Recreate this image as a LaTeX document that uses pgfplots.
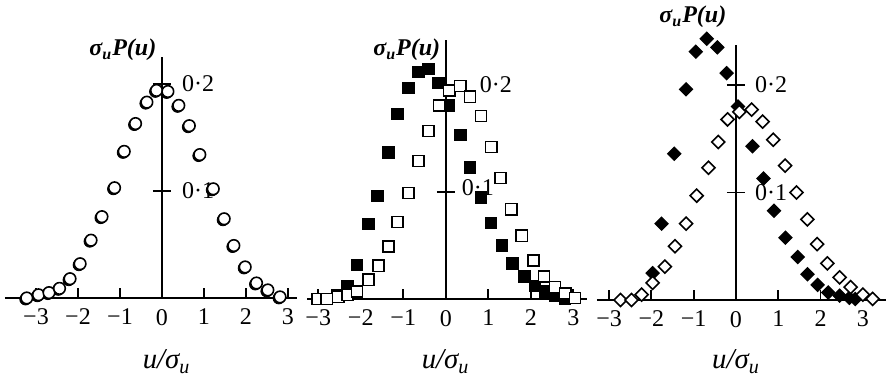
\documentclass[border=0pt]{standalone}
\usepackage{pgfplots}
\usepackage{pgfplotstable}
\pgfplotsset{compat=1.18}
\usepackage{fontspec}
\setmainfont{Liberation Serif}

\pgfplotstableread{
u p
-3.22 0.000
-2.94 0.003
-2.69 0.005
-2.44 0.009
-2.19 0.018
-1.95 0.032
-1.69 0.054
-1.43 0.076
-1.13 0.103
-0.90 0.137
-0.63 0.163
-0.36 0.183
-0.13 0.194
0.14 0.193
0.40 0.180
0.65 0.161
0.90 0.134
1.22 0.102
1.48 0.074
1.71 0.049
1.98 0.029
2.25 0.014
2.52 0.0075
2.81 0.001
}\circA

\pgfplotstableread{
u p
-2.56 0.004
-2.31 0.012
-2.09 0.032
-1.82 0.070
-1.61 0.096
-1.35 0.137
-1.14 0.173
-0.88 0.197
-0.64 0.212
-0.41 0.215
-0.17 0.202
0.08 0.181
0.35 0.153
0.57 0.123
0.83 0.095
1.07 0.071
1.33 0.050
1.57 0.033
1.85 0.021
2.10 0.012
2.34 0.007
2.57 0.003
2.81 0.000
}\sqFilled

\pgfplotstableread{
u p
-3.02 0.000
-2.80 0.000
-2.53 0.002
-2.31 0.004
-2.09 0.007
-1.82 0.018
-1.58 0.031
-1.35 0.049
-1.14 0.072
-0.88 0.099
-0.64 0.129
-0.41 0.157
-0.16 0.181
0.08 0.195
0.34 0.199
0.57 0.189
0.83 0.171
1.07 0.142
1.29 0.113
1.54 0.084
1.79 0.059
2.06 0.036
2.31 0.021
2.57 0.011
2.81 0.005
3.04 0.001
}\sqOpen

\pgfplotstableread{
u p
-1.97 0.025
-1.76 0.071
-1.46 0.136
-1.18 0.196
-0.95 0.231
-0.69 0.243
-0.44 0.235
-0.22 0.211
0.05 0.180
0.39 0.143
0.65 0.113
0.90 0.083
1.17 0.058
1.46 0.040
1.69 0.024
1.93 0.014
2.18 0.007
2.45 0.004
2.68 0.002
2.82 0.001
}\diaFilled

\pgfplotstableread{
u p
-2.73 0.000
-2.47 0.000
-2.23 0.005
-1.97 0.016
-1.68 0.031
-1.44 0.050
-1.18 0.071
-0.93 0.097
-0.65 0.123
-0.42 0.147
-0.20 0.168
0.08 0.175
0.37 0.177
0.63 0.166
0.88 0.149
1.16 0.125
1.43 0.100
1.69 0.075
1.92 0.052
2.16 0.034
2.45 0.021
2.71 0.012
3.00 0.005
3.23 0.001
}\diaOpen

\tikzset{ycross/.style={line width=0.9pt, black}}

\pgfplotsset{
  panel/.style={
    axis lines=middle,
    axis line style={-, line width=0.9pt, black},
    enlargelimits=false, clip=false, ymin=0,
    anchor=south west,
    xtick={-3,-2,-1,0,1,2,3},
    xticklabels={−3,−2,−1,0,1,2,3},
    hide obscured x ticks=false,
    hide obscured y ticks=false,
    tick align=inside, major tick length=5pt,
    xtick style={line width=0.9pt, black},
    ytick={0.1,0.2},
    ytick style={draw=none},
    yticklabels={0·1,0·2},
    yticklabel style={anchor=west, xshift=6.5pt},
    xticklabel style={yshift=-2pt},
    xlabel={\itshape u/σ\textsubscript{u}},
    ylabel={\bfseries\itshape σ\textsubscript{u}P(u)},
    tick label style={font=\large},
    xlabel style={font=\Large},
    ylabel style={font=\large},
  },
}

\begin{document}
\begin{tikzpicture}
\useasboundingbox (0,0) rectangle (443pt,-189.5pt);

% Panel 1
\begin{axis}[panel,
  at={(2.45pt,-149pt)},
  x=21pt, y=535pt,
  xmin=-3.74, xmax=3.21, ymax=0.225,
  xlabel style={at={(axis description cs:0.554,-0.264)}, anchor=center},
  ylabel style={at={(axis description cs:0.404,1.031)}, anchor=center},
]
\draw[ycross] ([xshift=-4.5pt]axis cs:0,0.1) -- ([xshift=4.5pt]axis cs:0,0.1);
\draw[ycross] ([xshift=-4.5pt]axis cs:0,0.2) -- ([xshift=4.5pt]axis cs:0,0.2);
\addplot[only marks, mark=*, mark size=2.9pt, black,
  mark options={xshift=-0.6pt, yshift=-0.6pt}] table[x=u,y=p] {\circA};
\addplot[only marks, mark=*, mark size=2.9pt,
  mark options={draw=black, fill=white, line width=0.8pt}] table[x=u,y=p] {\circA};
\end{axis}

% Panel 2
\begin{axis}[panel,
  at={(153.6pt,-149.5pt)},
  x=21.25pt, y=535pt,
  xmin=-3.26, xmax=3.32, ymax=0.242,
  yticklabels={{\raisebox{4.5pt}{0·1}},{\hspace{9pt}0·2}},
  yticklabel style={xshift=-2pt},
  xlabel style={at={(axis description cs:0.495,-0.242)}, anchor=center},
  ylabel style={at={(axis description cs:0.356,0.962)}, anchor=center},
]
\draw[ycross] ([xshift=-4.5pt]axis cs:0,0.1) -- ([xshift=4.5pt]axis cs:0,0.1);
\draw[ycross] ([xshift=-4.5pt]axis cs:0,0.2) -- ([xshift=4.5pt]axis cs:0,0.2);
\addplot[only marks, mark=square*, mark size=2.8pt,
  mark options={draw=black, fill=black, line width=0.6pt}] table[x=u,y=p] {\sqFilled};
\addplot[only marks, mark=square*, mark size=2.8pt,
  mark options={draw=black, fill=white, line width=0.8pt}] table[x=u,y=p] {\sqOpen};
\end{axis}

% Panel 3
\begin{axis}[panel,
  at={(298.4pt,-150pt)},
  x=21.15pt, y=537.5pt,
  xmin=-3.29, xmax=3.55, ymax=0.237,
  yticklabel style={xshift=-0.5pt},
  xlabel style={at={(axis description cs:0.481,-0.242)}, anchor=center},
  ylabel style={at={(axis description cs:0.332,1.11)}, anchor=center},
]
\draw[ycross] ([xshift=-4.5pt]axis cs:0,0.1) -- ([xshift=4.5pt]axis cs:0,0.1);
\draw[ycross] ([xshift=-4.5pt]axis cs:0,0.2) -- ([xshift=4.5pt]axis cs:0,0.2);
\addplot[only marks, mark=square*, mark size=2.3pt,
  mark options={rotate=45, draw=black, fill=black, line width=0.6pt}] table[x=u,y=p] {\diaFilled};
\addplot[only marks, mark=square*, mark size=2.3pt,
  mark options={rotate=45, draw=black, fill=white, line width=0.8pt}] table[x=u,y=p] {\diaOpen};
\end{axis}
\end{tikzpicture}
\end{document}
